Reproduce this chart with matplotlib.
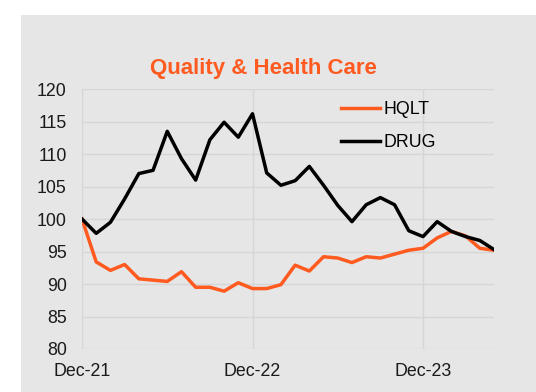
import numpy as np
from matplotlib import pyplot as plt
from matplotlib.patches import Rectangle

'''
Quality & Health Care: HQLT vs DRUG, rebased to 100 at Dec-21 (monthly)
'''

months = ['Dec-21', 'Jan-22', 'Feb-22', 'Mar-22', 'Apr-22', 'May-22', 'Jun-22', 'Jul-22',
          'Aug-22', 'Sep-22', 'Oct-22', 'Nov-22', 'Dec-22', 'Jan-23', 'Feb-23', 'Mar-23',
          'Apr-23', 'May-23', 'Jun-23', 'Jul-23', 'Aug-23', 'Sep-23', 'Oct-23', 'Nov-23',
          'Dec-23', 'Jan-24', 'Feb-24', 'Mar-24', 'Apr-24', 'May-24']

hqlt = [100.0, 93.4, 92.1, 93.0, 90.8, 90.6, 90.4, 91.9, 89.5, 89.5, 88.9, 90.2, 89.3,
        89.3, 89.9, 92.9, 92.0, 94.2, 94.0, 93.3, 94.2, 94.0, 94.6, 95.2, 95.5, 97.1,
        98.1, 97.4, 95.5, 95.2]

drug = [100.0, 97.8, 99.5, 103.1, 107.0, 107.5, 113.5, 109.3, 106.0, 112.2, 114.9, 112.6,
        116.2, 107.1, 105.2, 105.9, 108.1, 105.2, 102.1, 99.6, 102.2, 103.3, 102.2, 98.2,
        97.3, 99.6, 98.1, 97.3, 96.7, 95.3]

tick_labels = ['Dec-21', 'Dec-22', 'Dec-23']

plt.rcParams['font.family'] = ['Liberation Sans', 'DejaVu Sans']

orange = '#FF5A1F'
bg = '#E6E6E6'

fig = plt.figure(figsize=(5.36, 3.92), dpi=100, facecolor='white')
# grey panel behind the chart
fig.patches.append(Rectangle((0.039, 0.0), 0.961, 0.962, transform=fig.transFigure,
                             facecolor=bg, edgecolor='none', zorder=-5))

ax = fig.add_axes([0.153, 0.1097, 0.7687, 0.663])
ax.set_facecolor(bg)

x = np.arange(len(months))
ax.plot(x, hqlt, color=orange, lw=2.5, label='HQLT', zorder=3)
ax.plot(x, drug, color='black', lw=2.5, label='DRUG', zorder=3)

ax.set_xlim(0, len(months) - 1)
ax.set_ylim(80, 120)
ax.set_yticks(np.arange(80, 121, 5))
tick_pos = [months.index(t) for t in tick_labels]
ax.set_xticks(tick_pos)
ax.set_xticklabels(tick_labels)

ax.grid(True, color='#D6D6D6', lw=1)
ax.set_axisbelow(True)
for s in ax.spines.values():
    s.set_visible(False)
ax.tick_params(axis='both', length=0, labelsize=12.8, colors='#1a1a1a')
ax.tick_params(axis='y', pad=11)
ax.tick_params(axis='x', pad=10)

fig.text(0.4907, 0.812, 'Quality & Health Care', color=orange, fontsize=16,
         fontweight='bold', ha='center', va='baseline')

fig.legend(loc='center left', bbox_to_anchor=(0.636, 0.679), frameon=False,
           fontsize=12.8, handlelength=2.2, handletextpad=0.2, labelspacing=0.89,
           borderpad=0, borderaxespad=0)

fig.savefig('out.png', dpi=100, facecolor='white')
